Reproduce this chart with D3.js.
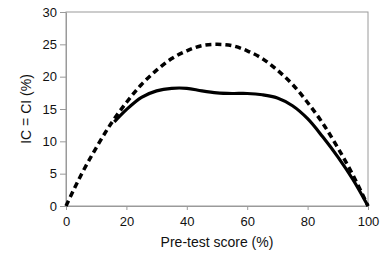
<!DOCTYPE html>
<html>
<head>
<meta charset="utf-8">
<script src="https://cdn.jsdelivr.net/npm/d3@7"></script>
<style>
  body { margin: 0; background: #fff; }
  svg text { font-family: "Liberation Sans", Arial, sans-serif; fill: #111; }
</style>
</head>
<body>
<div id="chart"></div>
<script>
// values
const dashedX = [0, 5, 10, 15, 20, 25, 30, 35, 40, 45, 50, 55, 60, 65, 70, 75, 80, 85, 90, 95, 100];
const dashedY = [0, 4.8, 9, 12.8, 16, 18.8, 21, 22.8, 24, 24.8, 25, 24.8, 24, 22.8, 21, 18.8, 16, 12.8, 9, 4.8, 0];

const solidX = [16, 20, 25, 30, 35, 40, 45, 50, 55, 60, 65, 70, 75, 80, 85, 90, 95, 100];
const solidY = [13.0, 14.9, 16.8, 17.8, 18.2, 18.2, 17.8, 17.5, 17.4, 17.4, 17.2, 16.7, 15.5, 13.5, 10.7, 7.6, 4.1, 0];

const xTicks = [0, 20, 40, 60, 80, 100];
const yTicks = [0, 5, 10, 15, 20, 25, 30];

const width = 386, height = 268;
const margin = { left: 66, right: 18, top: 12, bottom: 62 };

const svg = d3.select('#chart')
  .append('svg')
  .attr('width', width)
  .attr('height', height);

const x = d3.scaleLinear().domain([0, 100]).range([margin.left, width - margin.right]);
const y = d3.scaleLinear().domain([0, 30]).range([height - margin.bottom, margin.top]);

const axisColor = '#9a9a9a';

// frame (top and right)
svg.append('rect')
  .attr('x', x(0))
  .attr('y', y(30))
  .attr('width', x(100) - x(0))
  .attr('height', y(0) - y(30))
  .attr('fill', 'none')
  .attr('stroke', axisColor)
  .attr('stroke-width', 1);

let xAxis = svg.append('g')
  .attr('transform', `translate(0, ${y(0)})`)
  .call(d3.axisBottom(x).tickValues(xTicks).tickSize(4).tickPadding(7).tickSizeOuter(0));

let yAxis = svg.append('g')
  .attr('transform', `translate(${x(0)}, 0)`)
  .call(d3.axisLeft(y).tickValues(yTicks).tickSize(6).tickPadding(3).tickSizeOuter(0));

[xAxis, yAxis].forEach((ax) => {
  ax.select('.domain').attr('stroke', axisColor);
  ax.selectAll('.tick line').attr('stroke', axisColor);
  ax.selectAll('.tick text')
    .attr('font-size', 13)
    .attr('font-family', '"Liberation Sans", Arial, sans-serif')
    .attr('fill', '#111');
});

const line = d3.line()
  .x(d => x(d[0]))
  .y(d => y(d[1]))
  .curve(d3.curveCatmullRom);

svg.append('path')
  .datum(dashedX.map((v, i) => [v, dashedY[i]]))
  .attr('d', line)
  .attr('fill', 'none')
  .attr('stroke', '#000')
  .attr('stroke-width', 3.5)
  .attr('stroke-dasharray', '6,4');

svg.append('path')
  .datum(solidX.map((v, i) => [v, solidY[i]]))
  .attr('d', line)
  .attr('fill', 'none')
  .attr('stroke', '#000')
  .attr('stroke-width', 3.2);

// axis titles
svg.append('text')
  .attr('x', (x(0) + x(100)) / 2)
  .attr('y', 247)
  .attr('text-anchor', 'middle')
  .attr('font-size', 14)
  .text('Pre-test score (%)');

svg.append('text')
  .attr('transform', `translate(31, ${(y(0) + y(30)) / 2}) rotate(-90)`)
  .attr('text-anchor', 'middle')
  .attr('font-size', 14)
  .text('IC = CI (%)');
</script>
</body>
</html>
